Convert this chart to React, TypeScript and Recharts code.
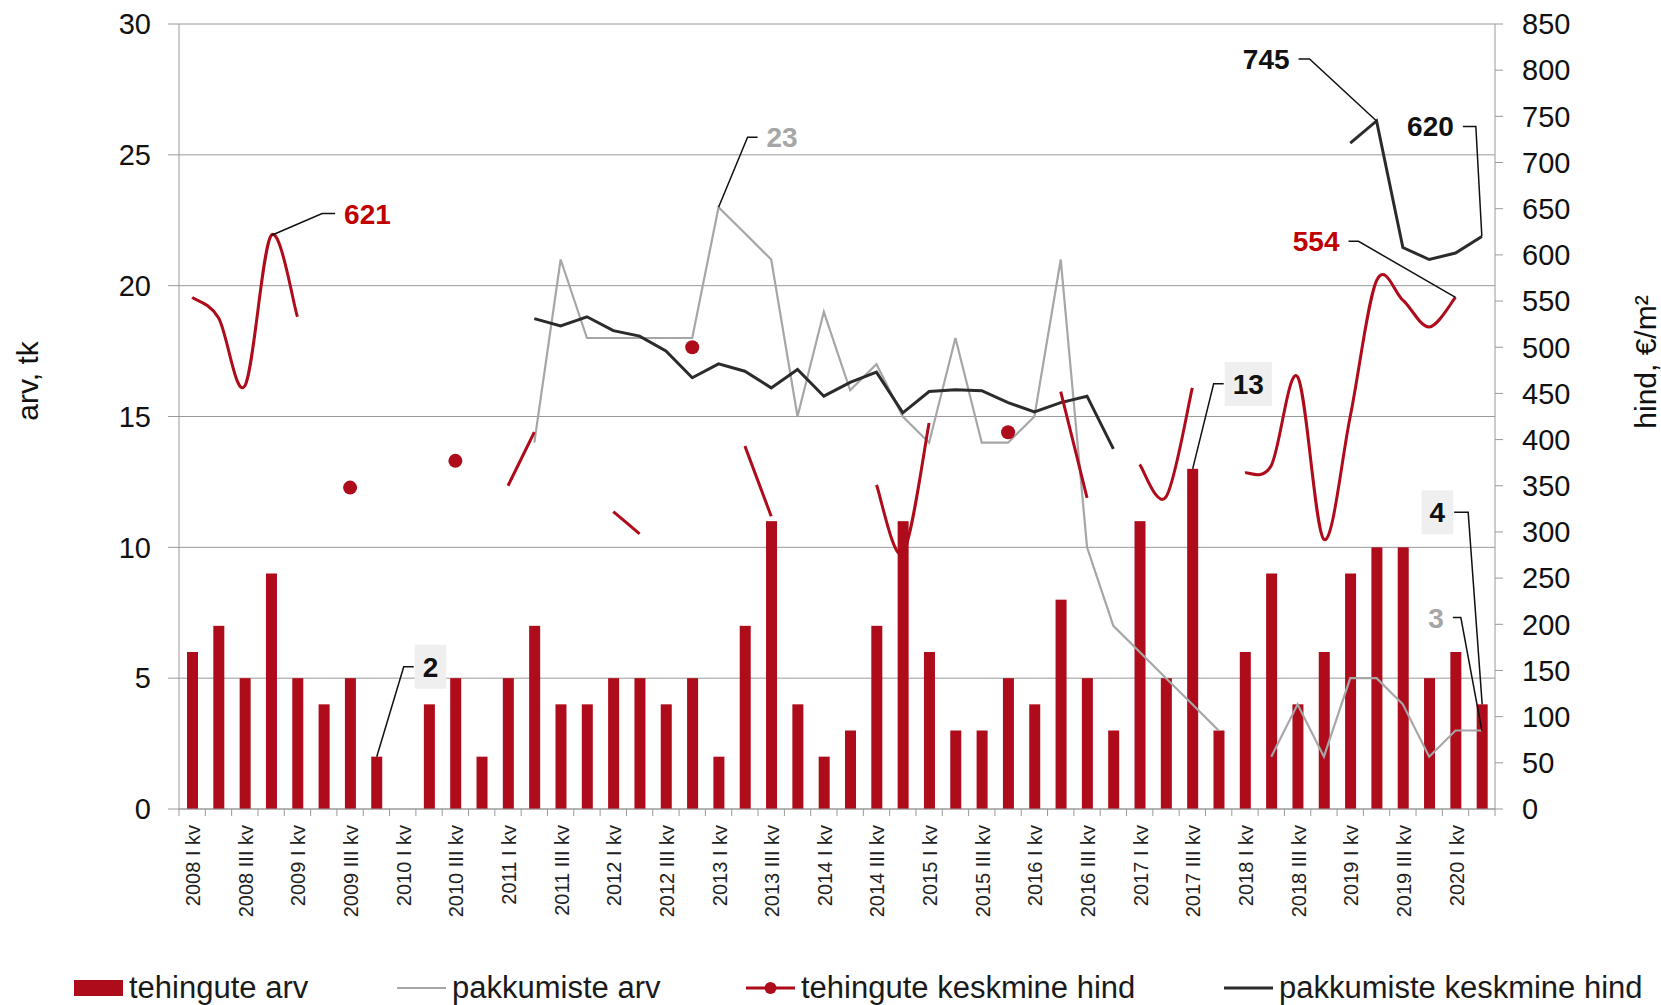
import React from "react";
import { ComposedChart, Bar, Line, XAxis, YAxis, CartesianGrid, Legend } from "recharts";

const years = [2008, 2009, 2010, 2011, 2012, 2013, 2014, 2015, 2016, 2017, 2018, 2019, 2020];
const quarterNames = ["I", "II", "III", "IV"];
const quarters: string[] = years.flatMap((y) => quarterNames.map((q) => `${y} ${q} kv`)).slice(0, 50);

// tehingute arv (left axis)
const dealsCount = [
  6, 7, 5, 9, 5, 4, 5, 2, 0, 4, 5, 2, 5, 7, 4, 4, 5, 5, 4, 5, 2, 7, 11, 4, 2,
  3, 7, 11, 6, 3, 3, 5, 4, 8, 5, 3, 11, 5, 13, 3, 6, 9, 4, 6, 9, 10, 10, 5, 6, 4,
];

// pakkumiste arv (left axis)
const offersCount = [
  null, null, null, null, null, null, null, null, null, null, null, null, null,
  14, 21, 18, 18, 18, 18, 18, 23, 22, 21, 15, 19, 16, 17, 15, 14, 18, 14, 14, 15,
  21, 10, 7, 6, 5, 4, 3, null, 2, 4, 2, 5, 5, 4, 2, 3, 3,
];

// tehingute keskmine hind (right axis)
const dealsPrice = [
  554, 532, 458, 621, 533, null, 348, null, null, null, 377, null, 350, 408, null,
  null, 322, 298, null, 500, null, 393, 317, null, null, null, 351, 277, 418, null,
  null, 408, null, 452, 337, null, 373, 338, 456, null, 364, 372, 468, 292, 425,
  572, 551, 522, 554, null,
];

// pakkumiste keskmine hind (right axis)
const offersPrice = [
  null, null, null, null, null, null, null, null, null, null, null, null, null,
  531, 523, 533, 518, 512, 496, 467, 482, 474, 456, 476, 447, 462, 473, 429, 452,
  454, 453, 440, 430, 440, 447, 390, null, null, null, null, null, null, null, null,
  721, 745, 608, 595, 602, 620,
];

const leftTicks = [0, 5, 10, 15, 20, 25, 30];
const rightTicks = [0, 50, 100, 150, 200, 250, 300, 350, 400, 450, 500, 550, 600, 650, 700, 750, 800, 850];

const data = quarters.map((q, i) => ({
  q,
  deals: dealsCount[i],
  offers: offersCount[i],
  dealPrice: dealsPrice[i],
  offerPrice: offersPrice[i],
}));

const RED = "#ae0b1b";
const RED_TEXT = "#c00000";
const GREY = "#a6a6a6";
const DARK = "#2b2b2b";
const AXIS = "#9a9a9a";
const FONT = "'Liberation Sans', Arial, sans-serif";

const W = 1661;
const H = 1005;
const PLOT_LEFT = 179;
const PLOT_RIGHT = 1495;
const BAND = (PLOT_RIGHT - PLOT_LEFT) / quarters.length;

type Callout = { index: number; color: string; box?: boolean; elbow: [number, number]; tail: number };

const callouts: Record<string, Callout[]> = {
  deals: [
    { index: 7, color: "#111", box: true, elbow: [27, -90], tail: 10 },
    { index: 38, color: "#111", box: true, elbow: [21, -85], tail: 10 },
    { index: 49, color: "#111", box: true, elbow: [-14, -192], tail: -14 },
  ],
  offers: [
    { index: 20, color: GREY, elbow: [29, -70], tail: 10 },
    { index: 49, color: GREY, elbow: [-21, -113], tail: -8 },
  ],
  dealPrice: [
    { index: 3, color: RED_TEXT, elbow: [51, -22], tail: 13 },
    { index: 48, color: RED_TEXT, elbow: [-97, -56], tail: -10 },
  ],
  offerPrice: [
    { index: 45, color: "#111", elbow: [-67, -62], tail: -11 },
    { index: 49, color: "#111", elbow: [-6, -110], tail: -13 },
  ],
};

function drawCallout(c: Callout, px: number, py: number, value: number, key: string) {
  const ex = px + c.elbow[0];
  const ey = py + c.elbow[1];
  const tx = ex + c.tail;
  const right = c.tail > 0;
  const text = String(value);
  const tw = text.length * 15.6;
  const textX = right ? tx + 9 : tx - 9;
  const left = right ? textX : textX - tw;
  return (
    <g key={key}>
      {c.box && <rect x={left - 8} y={ey - 22} width={tw + 16} height={44} fill="#efefef" />}
      <polyline points={`${px},${py} ${ex},${ey} ${tx},${ey}`} fill="none" stroke="#111" strokeWidth={1.5} />
      <text
        x={textX}
        y={ey}
        dy="0.36em"
        textAnchor={right ? "start" : "end"}
        fontFamily={FONT}
        fontWeight="bold"
        fontSize={28}
        fill={c.color}
      >
        {text}
      </text>
    </g>
  );
}

// Excel-like smoothed line (Catmull-Rom through the points)
function smoothCurve(context: any) {
  let pts: number[][] = [];
  return {
    areaStart() {},
    areaEnd() {},
    lineStart() {
      pts = [];
    },
    point(x: number, y: number) {
      pts.push([+x, +y]);
    },
    lineEnd() {
      const n = pts.length;
      if (!n) return;
      context.moveTo(pts[0][0], pts[0][1]);
      for (let i = 0; i < n - 1; i++) {
        const p0 = pts[i - 1] || pts[i];
        const p1 = pts[i];
        const p2 = pts[i + 1];
        const p3 = pts[i + 2] || p2;
        context.bezierCurveTo(
          p1[0] + (p2[0] - p0[0]) / 6,
          p1[1] + (p2[1] - p0[1]) / 6,
          p2[0] - (p3[0] - p1[0]) / 6,
          p2[1] - (p3[1] - p1[1]) / 6,
          p2[0],
          p2[1]
        );
      }
    },
  };
}

const lineDot = (key: string, series: (number | null)[], showIsolated: boolean) => (props: any) => {
  const { cx, cy, index } = props;
  const value = series[index];
  if (value == null || cx == null || cy == null) return <g key={`${key}-${index}`} />;
  const note = callouts[key]?.find((c) => c.index === index);
  const isolated = showIsolated && series[index - 1] == null && series[index + 1] == null;
  return (
    <g key={`${key}-${index}`}>
      {isolated && <circle cx={cx} cy={cy} r={7} fill={RED} />}
      {note && drawCallout(note, cx, cy, value, `${key}-n-${index}`)}
    </g>
  );
};

const barShape = (props: any) => {
  const { x, y, width, height, index } = props;
  const note = callouts.deals.find((c) => c.index === index);
  return (
    <g>
      {height > 0 && <rect x={x} y={y} width={width} height={height} fill={RED} />}
      {note && drawCallout(note, x + width / 2, y, dealsCount[index], `deals-n-${index}`)}
    </g>
  );
};

const XTick = (props: any) => {
  const { x, y, payload } = props;
  const index = payload?.index ?? props.index;
  const half = BAND / 2;
  return (
    <g>
      <line x1={x - half} x2={x - half} y1={y} y2={y + 7} stroke={AXIS} />
      {index === quarters.length - 1 && <line x1={x + half} x2={x + half} y1={y} y2={y + 7} stroke={AXIS} />}
      {index % 2 === 0 && (
        <text
          transform={`translate(${x + 8},${y + 16}) rotate(-90)`}
          textAnchor="end"
          fontFamily={FONT}
          fontSize={20}
          fill="#222"
        >
          {payload.value}
        </text>
      )}
    </g>
  );
};

const legendItems = [
  { label: "tehingute arv", kind: "bar", left: 74 },
  { label: "pakkumiste arv", kind: "grey", left: 397 },
  { label: "tehingute keskmine hind", kind: "red", left: 746 },
  { label: "pakkumiste keskmine hind", kind: "dark", left: 1224 },
];

const LegendContent = () => (
  <div style={{ position: "relative", width: W, height: 44, fontFamily: FONT }}>
    {legendItems.map((it) => (
      <div
        key={it.label}
        style={{ position: "absolute", left: it.left, top: 0, height: 44, display: "flex", alignItems: "center" }}
      >
        <svg width={49} height={20} style={{ marginRight: 6 }}>
          {it.kind === "bar" && <rect x={0} y={2} width={49} height={16} fill={RED} />}
          {it.kind === "grey" && <line x1={0} x2={49} y1={10} y2={10} stroke={GREY} strokeWidth={2} />}
          {it.kind === "red" && (
            <g>
              <line x1={0} x2={49} y1={10} y2={10} stroke={RED} strokeWidth={3} />
              <circle cx={24.5} cy={10} r={6} fill={RED} />
            </g>
          )}
          {it.kind === "dark" && <line x1={0} x2={49} y1={10} y2={10} stroke={DARK} strokeWidth={3} />}
        </svg>
        <span style={{ fontSize: 31, color: "#1a1a1a", whiteSpace: "nowrap" }}>{it.label}</span>
      </div>
    ))}
  </div>
);

export default function App() {
  return (
    <div style={{ position: "absolute", left: 0, top: 0, width: W, height: H, background: "#fff", fontFamily: FONT }}>
      <ComposedChart width={W} height={H} data={data} margin={{ top: 24, right: 0, bottom: 0, left: 0 }}>
        <CartesianGrid yAxisId="left" vertical={false} stroke={AXIS} strokeWidth={1} />
        <XAxis
          dataKey="q"
          interval={0}
          height={196}
          tick={<XTick />}
          tickLine={false}
          tickSize={0}
          tickMargin={0}
          axisLine={{ stroke: AXIS }}
        />
        <YAxis
          yAxisId="left"
          orientation="left"
          width={PLOT_LEFT}
          domain={[0, 30]}
          ticks={leftTicks}
          interval={0}
          tickSize={11}
          tickMargin={17}
          tickLine={{ stroke: AXIS }}
          axisLine={{ stroke: AXIS }}
          tick={{ fontSize: 29, fill: "#111", fontFamily: FONT }}
          label={() => (
            <text
              x={27}
              y={381}
              transform="rotate(-90 27 381)"
              textAnchor="middle"
              dominantBaseline="central"
              fontFamily={FONT}
              fontSize={30}
              fill="#111"
            >
              arv, tk
            </text>
          )}
        />
        <YAxis
          yAxisId="right"
          orientation="right"
          width={W - PLOT_RIGHT}
          domain={[0, 850]}
          ticks={rightTicks}
          interval={0}
          tickSize={8}
          tickMargin={19}
          tickLine={{ stroke: AXIS }}
          axisLine={{ stroke: AXIS }}
          tick={{ fontSize: 29, fill: "#111", fontFamily: FONT, textAnchor: "start" }}
          label={() => (
            <text
              x={1645}
              y={362}
              transform="rotate(-90 1645 362)"
              textAnchor="middle"
              dominantBaseline="central"
              fontFamily={FONT}
              fontSize={30}
              fill="#111"
            >
              hind, €/m²
            </text>
          )}
        />
        <Legend
          content={<LegendContent />}
          layout="horizontal"
          verticalAlign="middle"
          align="center"
          wrapperStyle={{ top: 966, left: 0, width: W, height: 44 }}
        />
        <Bar
          yAxisId="left"
          dataKey="deals"
          name="tehingute arv"
          barSize={11}
          fill={RED}
          shape={barShape}
          isAnimationActive={false}
        />
        <Line
          yAxisId="left"
          dataKey="offers"
          name="pakkumiste arv"
          type="linear"
          stroke={GREY}
          strokeWidth={2.2}
          dot={lineDot("offers", offersCount, false)}
          activeDot={false}
          isAnimationActive={false}
        />
        <Line
          yAxisId="right"
          dataKey="offerPrice"
          name="pakkumiste keskmine hind"
          type="linear"
          stroke={DARK}
          strokeWidth={3}
          dot={lineDot("offerPrice", offersPrice, false)}
          activeDot={false}
          isAnimationActive={false}
        />
        <Line
          yAxisId="right"
          dataKey="dealPrice"
          name="tehingute keskmine hind"
          type={smoothCurve as any}
          stroke={RED}
          strokeWidth={3}
          dot={lineDot("dealPrice", dealsPrice, true)}
          activeDot={false}
          isAnimationActive={false}
        />
      </ComposedChart>
    </div>
  );
}
